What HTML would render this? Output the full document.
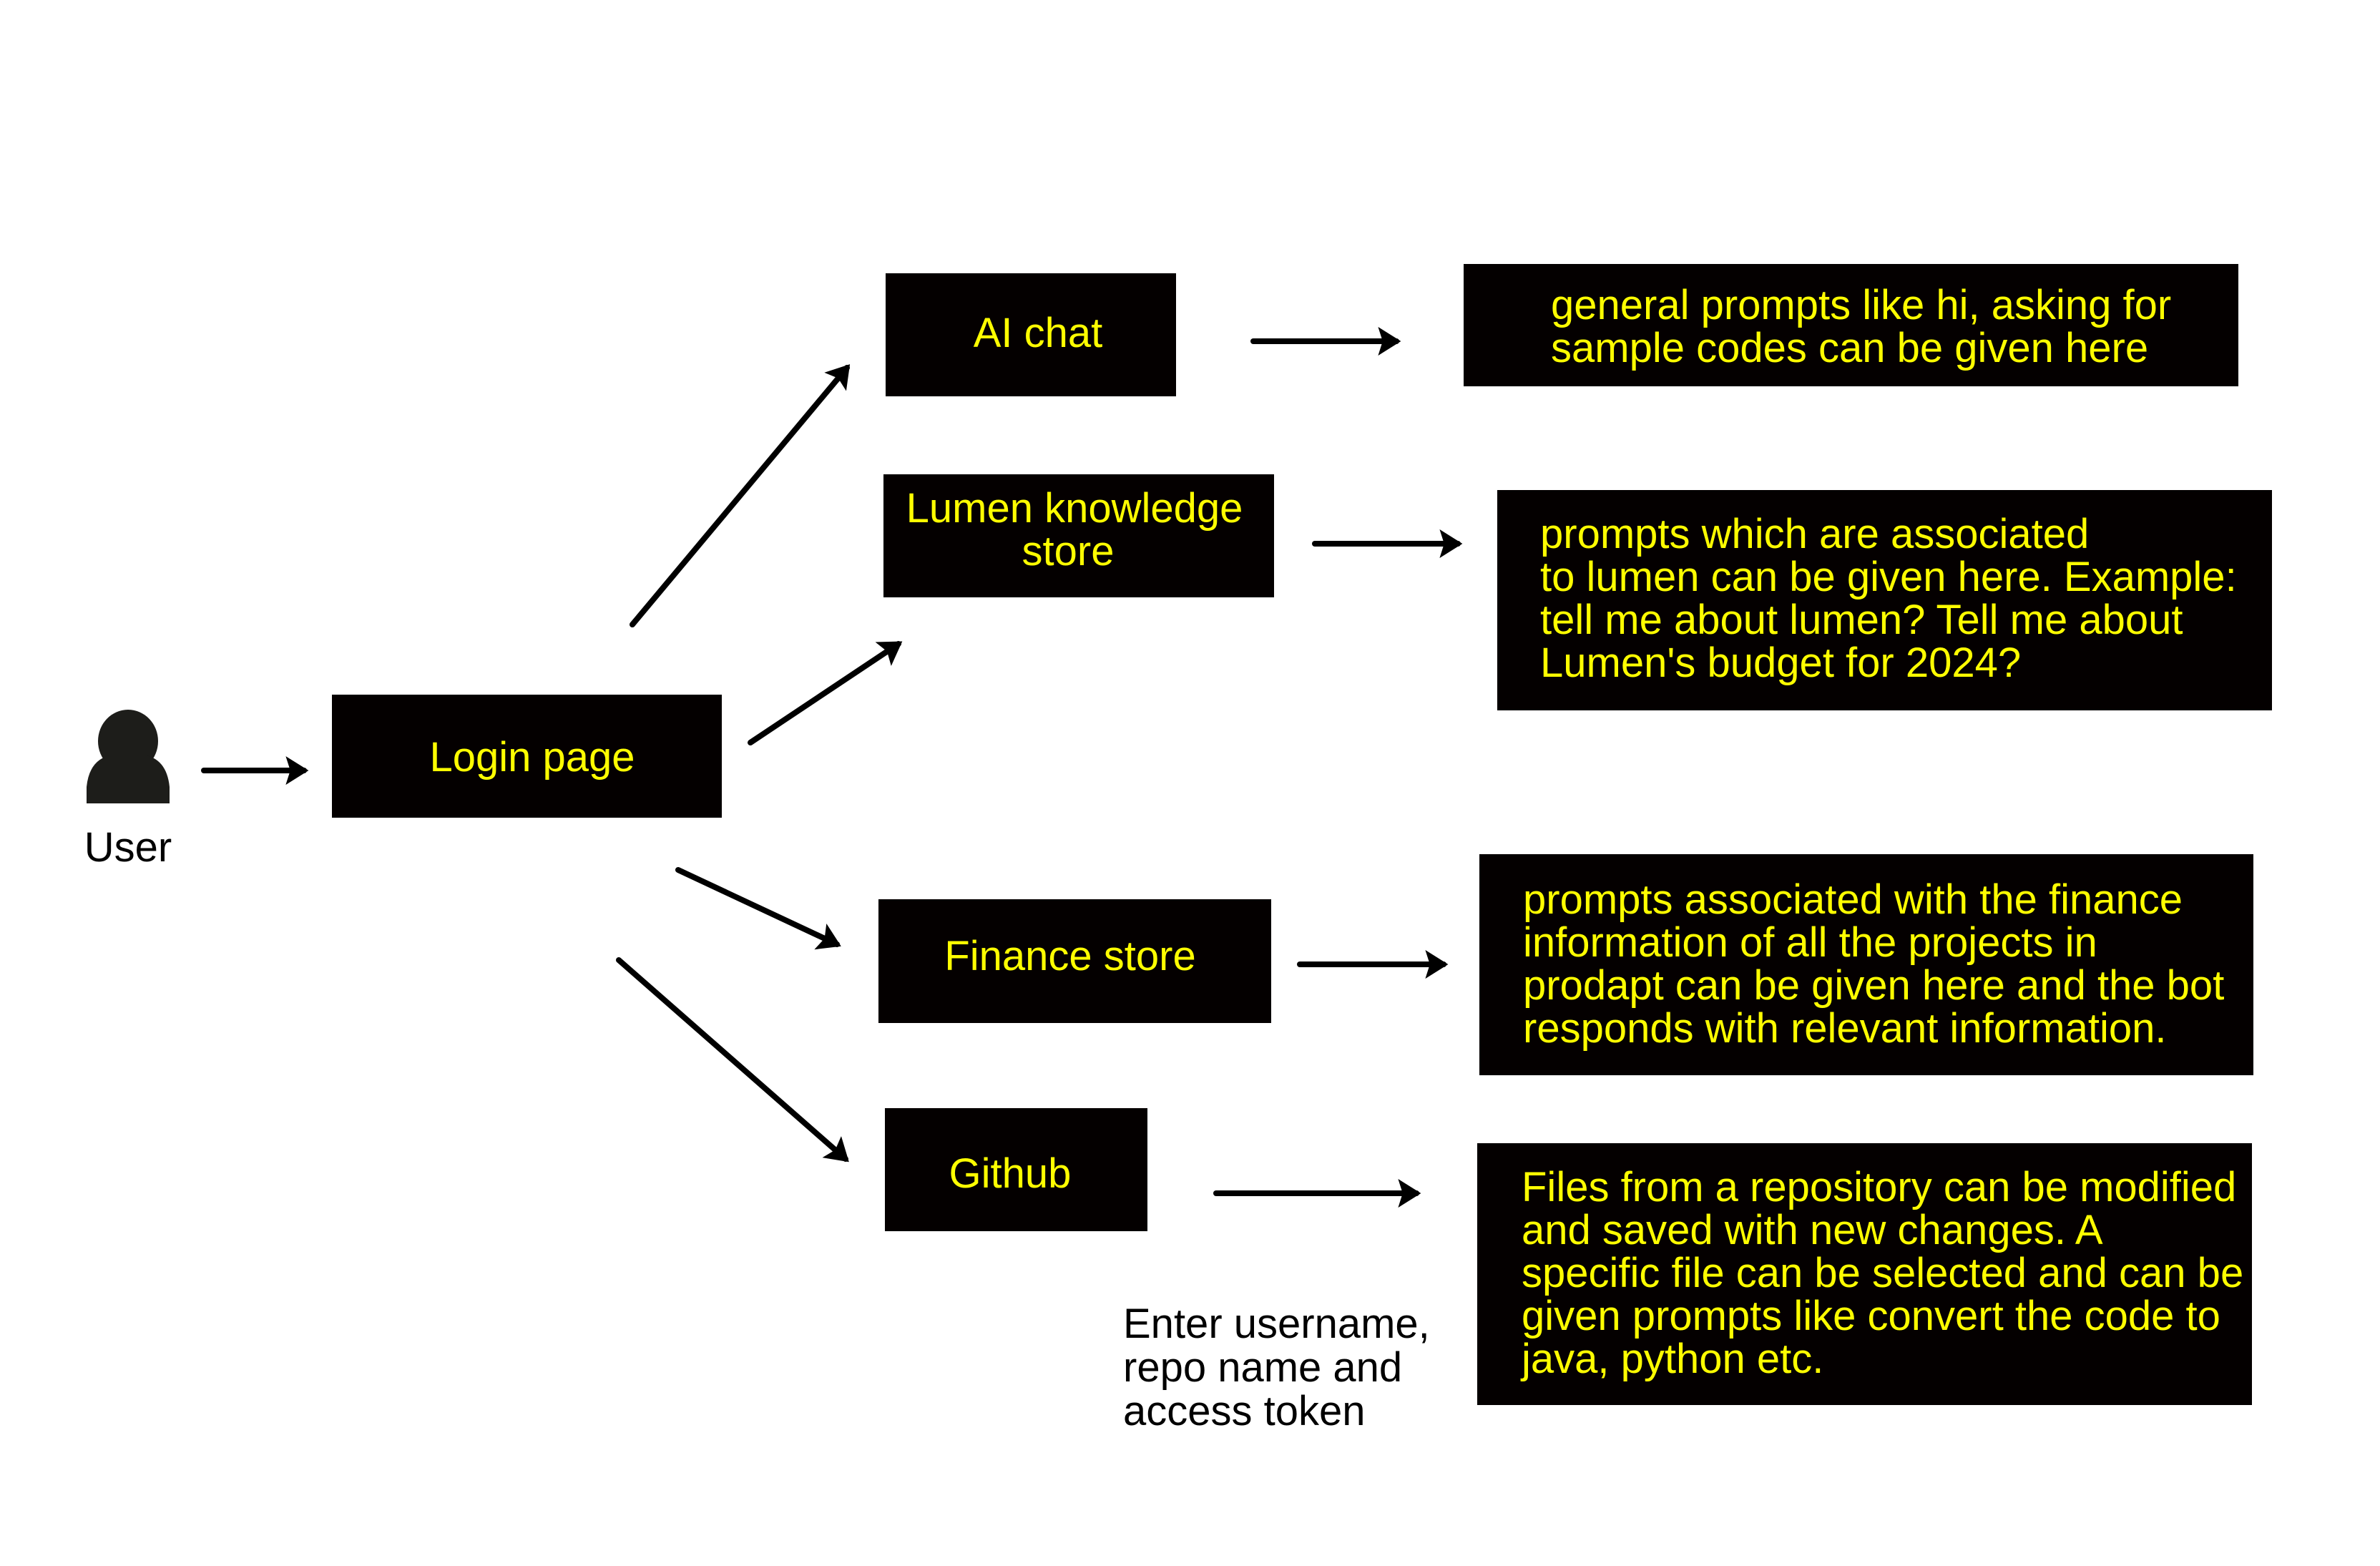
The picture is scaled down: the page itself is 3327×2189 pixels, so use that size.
<!DOCTYPE html>
<html><head><meta charset="utf-8"><style>
html,body{margin:0;padding:0;background:#fff;}
svg{display:block;}
text{font-family:"Liberation Sans",sans-serif;font-size:58px;}
.y{fill:#ffff00;}
.k{fill:#000;}
</style></head><body>
<svg width="3327" height="2189" viewBox="0 0 3327 2189" xmlns="http://www.w3.org/2000/svg">
<defs>
<marker id="a" markerWidth="4" markerHeight="5" refX="3.2" refY="2.5" orient="auto" markerUnits="strokeWidth">
<path d="M0,0 L4,2.5 L0,5 L0.8,2.5 Z" fill="#000"/>
</marker>
</defs>
<ellipse cx="179" cy="1036" rx="42" ry="44" fill="#1d1d1a"/>
<path d="M121,1123 L121,1100 Q125,1060 158,1055 L200,1055 Q233,1060 237,1100 L237,1123 Z" fill="#1d1d1a"/>
<text x="179" y="1204" text-anchor="middle" class="k">User</text>

<rect x="464" y="971" width="545" height="172" fill="#040000"/>
<text x="744" y="1078" text-anchor="middle" class="y">Login page</text>
<rect x="1238" y="382" width="406" height="172" fill="#040000"/>
<text x="1451" y="485" text-anchor="middle" class="y">AI chat</text>
<rect x="1235" y="663" width="546" height="172" fill="#040000"/>
<text x="1502" y="730" text-anchor="middle" class="y">Lumen knowledge</text>
<text x="1493" y="790" text-anchor="middle" class="y">store</text>
<rect x="1228" y="1257" width="549" height="173" fill="#040000"/>
<text x="1496" y="1356" text-anchor="middle" class="y">Finance store</text>
<rect x="1237" y="1549" width="367" height="172" fill="#040000"/>
<text x="1412" y="1660" text-anchor="middle" class="y">Github</text>

<rect x="2046" y="369" width="1083" height="171" fill="#040000"/>
<text x="2168" y="446" class="y">general prompts like hi, asking for</text>
<text x="2168" y="506" class="y">sample codes can be given here</text>

<rect x="2093" y="685" width="1083" height="308" fill="#040000"/>
<text x="2153" y="766" class="y">prompts which are associated</text>
<text x="2153" y="826" class="y">to lumen can be given here. Example:</text>
<text x="2153" y="886" class="y">tell me about lumen? Tell me about</text>
<text x="2153" y="946" class="y">Lumen's budget for 2024?</text>

<rect x="2068" y="1194" width="1082" height="309" fill="#040000"/>
<text x="2129" y="1277" class="y">prompts associated with the finance</text>
<text x="2129" y="1337" class="y">information of all the projects in</text>
<text x="2129" y="1397" class="y">prodapt can be given here and the bot</text>
<text x="2129" y="1457" class="y">responds with relevant information.</text>

<rect x="2065" y="1598" width="1083" height="366" fill="#040000"/>
<text x="2127" y="1679" class="y">Files from a repository can be modified</text>
<text x="2127" y="1739" class="y">and saved with new changes. A</text>
<text x="2127" y="1799" class="y">specific file can be selected and can be</text>
<text x="2127" y="1859" class="y">given prompts like convert the code to</text>
<text x="2127" y="1919" class="y">java, python etc.</text>

<text x="1570" y="1870" class="k">Enter username,</text>
<text x="1570" y="1931" class="k">repo name and</text>
<text x="1570" y="1992" class="k">access token</text>

<g stroke="#000" stroke-width="8" stroke-linecap="round" fill="none" marker-end="url(#a)">
<line x1="285" y1="1077" x2="425" y2="1077"/>
<line x1="884" y1="873" x2="1184" y2="514"/>
<line x1="1049" y1="1038" x2="1256" y2="900"/>
<line x1="948" y1="1216" x2="1170" y2="1320"/>
<line x1="865" y1="1342" x2="1182" y2="1620"/>
<line x1="1752" y1="477" x2="1952" y2="477"/>
<line x1="1838" y1="760" x2="2038" y2="760"/>
<line x1="1817" y1="1348" x2="2018" y2="1348"/>
<line x1="1700" y1="1668" x2="1980" y2="1668"/>
</g>
</svg>
</body></html>
